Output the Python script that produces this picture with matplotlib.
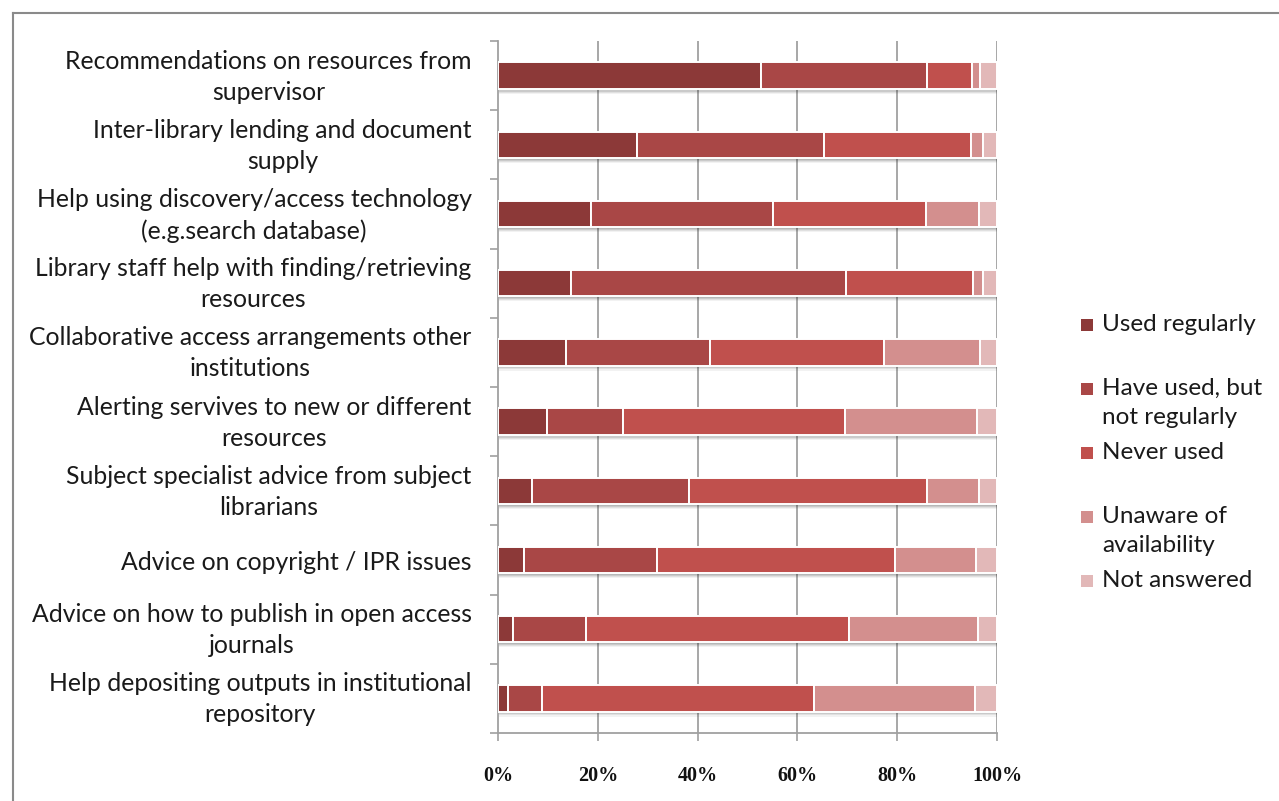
import matplotlib
matplotlib.use("Agg")
import matplotlib.pyplot as plt
from matplotlib.patches import Rectangle
from matplotlib.lines import Line2D
from matplotlib import patheffects as pe
from matplotlib.transforms import ScaledTranslation
import numpy as np

# Library services used by researchers (percent of respondents)
categories = [
    "Recommendations on resources from\nsupervisor",
    "Inter-library lending and document\nsupply",
    "Help using discovery/access technology\n(e.g.search database)",
    "Library staff help with finding/retrieving\nresources",
    "Collaborative access arrangements other\ninstitutions",
    "Alerting servives to new or different\nresources",
    "Subject specialist advice from subject\nlibrarians",
    "Advice on copyright / IPR issues",
    "Advice on how to publish in open access\njournals",
    "Help depositing outputs in institutional\nrepository",
]

series_names = [
    "Used regularly",
    "Have used, but\nnot regularly",
    "Never used",
    "Unaware of\navailability",
    "Not answered",
]

used_regularly = [52.8, 27.8, 18.6, 14.7, 13.6, 9.8, 6.9, 5.3, 3.1, 2.1]
have_used = [33.2, 37.6, 36.5, 55.1, 28.9, 15.3, 31.3, 26.5, 14.5, 6.8]
never_used = [8.9, 29.3, 30.6, 25.4, 34.8, 44.5, 47.8, 47.8, 52.8, 54.5]
unaware = [1.6, 2.4, 10.6, 1.9, 19.2, 26.4, 10.3, 16.2, 25.7, 32.1]
not_answered = [3.5, 2.9, 3.7, 2.9, 3.5, 4.0, 3.7, 4.2, 3.9, 4.5]

x_ticks = [0, 20, 40, 60, 80, 100]
x_tick_labels = ["0%", "20%", "40%", "60%", "80%", "100%"]

colors = ["#8C3938", "#A94746", "#C0504D", "#D38F8E", "#E2B8B8"]

W, H = 1279, 801
fig = plt.figure(figsize=(W / 100, H / 100), dpi=100)
ax = fig.add_axes([498 / W, 1 - 733 / H, (997 - 498) / W, (733 - 41) / H])

values = np.array([used_regularly, have_used, never_used, unaware, not_answered])
# normalise each row to 100%
values = values / values.sum(axis=0) * 100
y = np.arange(len(categories))

# soft drop shadow below each bar segment
shadow = [pe.SimplePatchShadow(offset=(0.5, -o), shadow_rgbFace="#303030", alpha=a)
          for o, a in ((3.6, 0.06), (2.8, 0.09), (2.0, 0.12), (1.2, 0.12))] + [pe.Normal()]
left = np.zeros(len(categories))
for vals, col in zip(values, colors):
    bars = ax.barh(y, vals, left=left, height=0.38, color=col,
                   edgecolor="white", linewidth=1.4, zorder=3)
    for b in bars:
        b.set_path_effects(shadow)
    left += vals

ax.set_xlim(0, 100)
ax.set_ylim(len(categories) - 0.5, -0.5)

grid_color = "#A0A0A0"
ax.set_xticks(x_ticks)
ax.set_xticklabels(x_tick_labels, family="Liberation Serif", fontweight="bold",
                   fontsize=14.5, color="#111111")
ax.tick_params(axis="x", length=6, width=1.2, color=grid_color, pad=18)
for xv in x_ticks[1:]:
    ax.axvline(xv, color=grid_color, lw=1.3, zorder=1)

ax.set_yticks(y)
ax.set_yticklabels(categories, family="Lato", fontsize=17.8, color="#1a1a1a",
                   multialignment="center", linespacing=1.42)
ax.tick_params(axis="y", which="major", length=0, pad=19)
ax.set_yticks(np.arange(-0.5, len(categories), 1.0), minor=True)
ax.tick_params(axis="y", which="minor", length=6, width=1.2, color=grid_color)
# two-line labels sit slightly higher so the pair centres on the bar
lift = ScaledTranslation(0, 5 / 100, fig.dpi_scale_trans)
for lbl in ax.get_yticklabels():
    if "\n" in lbl.get_text():
        lbl.set_transform(lbl.get_transform() + lift)

for s in ("top", "right"):
    ax.spines[s].set_visible(False)
for s in ("left", "bottom"):
    ax.spines[s].set_color(grid_color)
    ax.spines[s].set_linewidth(1.3)

# legend
leg_text_y = [323, 387, 451, 515, 579]
for name, col, yy in zip(series_names, colors, leg_text_y):
    fig.add_artist(Rectangle((1081 / W, 1 - (yy + 8) / H), 12 / W, 12 / H,
                             transform=fig.transFigure, facecolor=col,
                             edgecolor="none"))
    fig.text(1102 / W, 1 - (yy - 9) / H, name, family="Lato", fontsize=17.5,
             color="#1a1a1a", va="top", ha="left", linespacing=1.45)

# chart frame
fig.add_artist(Line2D([13 / W, 13 / W], [0, 1 - 13 / H], transform=fig.transFigure,
                      color="#8a8a8a", lw=1.5))
fig.add_artist(Line2D([13 / W, 1], [1 - 13 / H, 1 - 13 / H], transform=fig.transFigure,
                      color="#8a8a8a", lw=1.5))

fig.savefig("out.png", dpi=100)
